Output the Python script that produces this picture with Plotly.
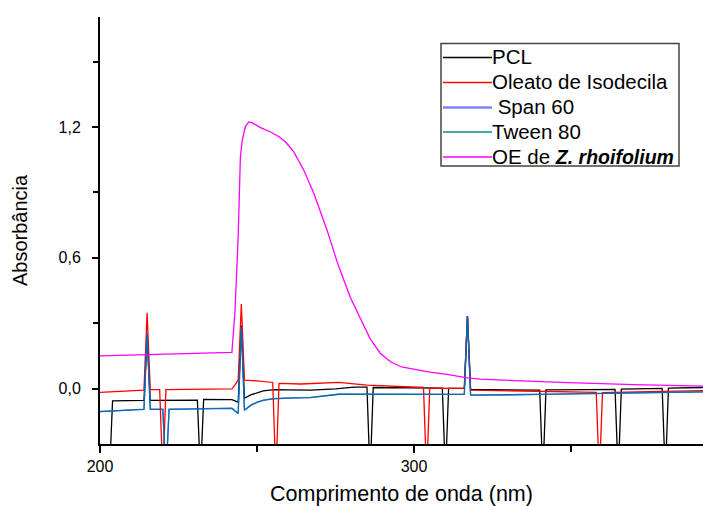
import plotly.graph_objects as go

# ---------------- data ----------------
pcl_x = [200, 203, 204, 214, 215, 216, 231, 232, 233, 242, 243, 244, 245, 246, 248, 250,
         252, 254, 256, 260, 267, 275, 281, 285, 286, 287, 300, 309, 310, 311, 316, 317,
         318, 330, 340, 341, 342, 355, 364, 365, 366, 379, 380, 381, 392]
pcl_y = [-0.40, -0.40, -0.055, -0.053, 0.25, -0.053, -0.052, -0.40, -0.049, -0.050, -0.055,
         -0.062, 0.29, -0.043, -0.028, -0.018, -0.010, -0.006, -0.004, -0.005, -0.006, 0.000,
         0.008, 0.008, -0.40, 0.006, 0.004, 0.003, -0.40, 0.002, 0.002, 0.333, -0.003, -0.004,
         -0.006, -0.40, -0.005, -0.004, -0.003, -0.40, -0.001, 0.002, -0.40, 0.003, 0.006]

oleato_x = [200, 214, 215, 216, 219, 220, 221, 242, 243, 244, 245, 246, 250, 255, 256, 257,
            264, 270, 276, 285, 295, 303, 304, 305, 316, 317, 318, 330, 345, 358, 359, 360,
            375, 392]
oleato_y = [-0.016, -0.006, 0.348, -0.004, -0.004, -0.40, -0.004, 0.000, 0.018, 0.040, 0.388,
            0.040, 0.036, 0.029, -0.40, 0.025, 0.022, 0.025, 0.029, 0.017, 0.010, 0.006, -0.40,
            0.003, 0.002, 0.333, -0.006, -0.010, -0.014, -0.016, -0.40, -0.018, -0.013, -0.008]

span_x = [200, 214, 215, 216, 220, 221, 222, 242, 243, 244, 245, 246, 248, 250, 252, 255,
          260, 267, 276, 290, 316, 317, 318, 340, 370, 392]
span_y = [-0.105, -0.094, 0.255, -0.094, -0.094, -0.40, -0.094, -0.090, -0.102, -0.113, 0.284,
          -0.098, -0.076, -0.062, -0.053, -0.046, -0.043, -0.040, -0.025, -0.026, -0.026, 0.333,
          -0.029, -0.026, -0.020, -0.014]

tween_x = [200, 214, 215, 216, 220, 221, 222, 242, 243, 244, 245, 246, 248, 250, 252, 255,
           260, 267, 276, 290, 316, 317, 318, 340, 370, 392]
tween_y = [-0.104, -0.093, 0.250, -0.093, -0.093, -0.40, -0.093, -0.089, -0.101, -0.112, 0.280,
           -0.097, -0.075, -0.061, -0.052, -0.045, -0.042, -0.039, -0.025, -0.026, -0.026, 0.330,
           -0.029, -0.026, -0.020, -0.014]

oe_x = [200, 242, 243, 244, 244.7, 245.3, 246.3, 247.4, 248.5, 251.1, 254.3, 257, 259.1, 261.7,
        264.9, 268.1, 272.3, 275.5, 277.6, 279.7, 282, 284, 286, 289.3, 292.5, 296, 300, 305,
        310.5, 317, 321, 335, 349, 370, 392]
oe_y = [0.151, 0.167, 0.36, 0.70, 1.063, 1.139, 1.203, 1.223, 1.219, 1.197, 1.177, 1.155, 1.131,
        1.086, 1.002, 0.895, 0.727, 0.582, 0.50, 0.42, 0.35, 0.29, 0.23, 0.162, 0.124, 0.10,
        0.088, 0.076, 0.066, 0.050, 0.044, 0.035, 0.028, 0.019, 0.012]

names = ["PCL", "Oleato de Isodecila", "\u00a0Span 60", "Tween 80",
         "OE de <span style='font-size:19.5px'><b><i>Z. rhoifolium</i></b></span>"]
colors = ["#000000", "#ff0000", "#2040ff", "rgba(0,128,128,0.7)", "#ff00ff"]
legend_colors = ["#000000", "#ff0000", "#7f7fff", "#008b8b", "#ff00ff"]

x_ticks = [200, 300]
y_ticks = [0.0, 0.6, 1.2]

series = [(pcl_x, pcl_y), (oleato_x, oleato_y), (span_x, span_y),
          (tween_x, tween_y), (oe_x, oe_y)]

W, H = 703, 506
ML, MR, MT, MB = 100, 0, 17, 62
FONT = "Liberation Sans, Arial, Helvetica, sans-serif"

fig = go.Figure()
for (xs, ys), nm, c in zip(series, names, colors):
    fig.add_trace(go.Scatter(x=xs, y=ys, mode="lines", name=nm,
                             line=dict(color=c, width=1.3), showlegend=False))

# ---- manual legend (box, samples, labels) in paper coordinates ----
pw, ph = W - ML - MR, H - MT - MB
def px(xp):
    return (xp - ML) / pw
def py(yp):
    return (H - MB - yp) / ph

fig.add_shape(type="rect", xref="paper", yref="paper",
              x0=px(441), x1=px(679), y0=py(166), y1=py(43.5),
              line=dict(color="#444444", width=1.5), fillcolor="white", layer="above")
row_y = [56.5, 81.5, 106.5, 131, 156]
for i, (nm, lc) in enumerate(zip(names, legend_colors)):
    fig.add_shape(type="line", xref="paper", yref="paper",
                  x0=px(443), x1=px(492), y0=py(row_y[i] + 1), y1=py(row_y[i] + 1),
                  line=dict(color=lc, width=2.5 if i == 2 else 1.3), layer="above")
    fig.add_annotation(xref="paper", yref="paper", x=px(491), y=py(row_y[i]),
                       text=nm, showarrow=False, xanchor="left", yanchor="middle",
                       font=dict(size=20.5, color="black", family=FONT), borderpad=0)

fig.update_layout(
    width=W, height=H,
    margin=dict(l=ML, r=MR, t=MT, b=MB),
    paper_bgcolor="white", plot_bgcolor="white",
    separators=",.",
    font=dict(family=FONT, color="black", size=16),
    xaxis=dict(range=[200, 392], tickvals=x_ticks, ticks="outside", ticklen=7,
               tickwidth=1.5, tickcolor="black", showline=True, linecolor="black",
               linewidth=2, showgrid=False, zeroline=False, tickfont=dict(size=16),
               minor=dict(tickvals=[250, 350], ticks="outside", ticklen=6,
                          tickwidth=1.5, tickcolor="black"),
               title=dict(text="Comprimento de onda (nm)", font=dict(size=21.5), standoff=17)),
    yaxis=dict(range=[-0.253, 1.704], tickvals=y_ticks, tickformat=".1f",
               ticks="outside", ticklen=6, tickwidth=1.5, tickcolor="black",
               showline=True, linecolor="black", linewidth=2, showgrid=False,
               zeroline=False, tickfont=dict(size=16), ticklabelstandoff=8,
               minor=dict(tickvals=[0.3, 0.9, 1.5], ticks="outside", ticklen=5,
                          tickwidth=1.5, tickcolor="black"),
               title=dict(text="Absorbância", font=dict(size=20), standoff=26)),
)

fig.write_html("out.html")
